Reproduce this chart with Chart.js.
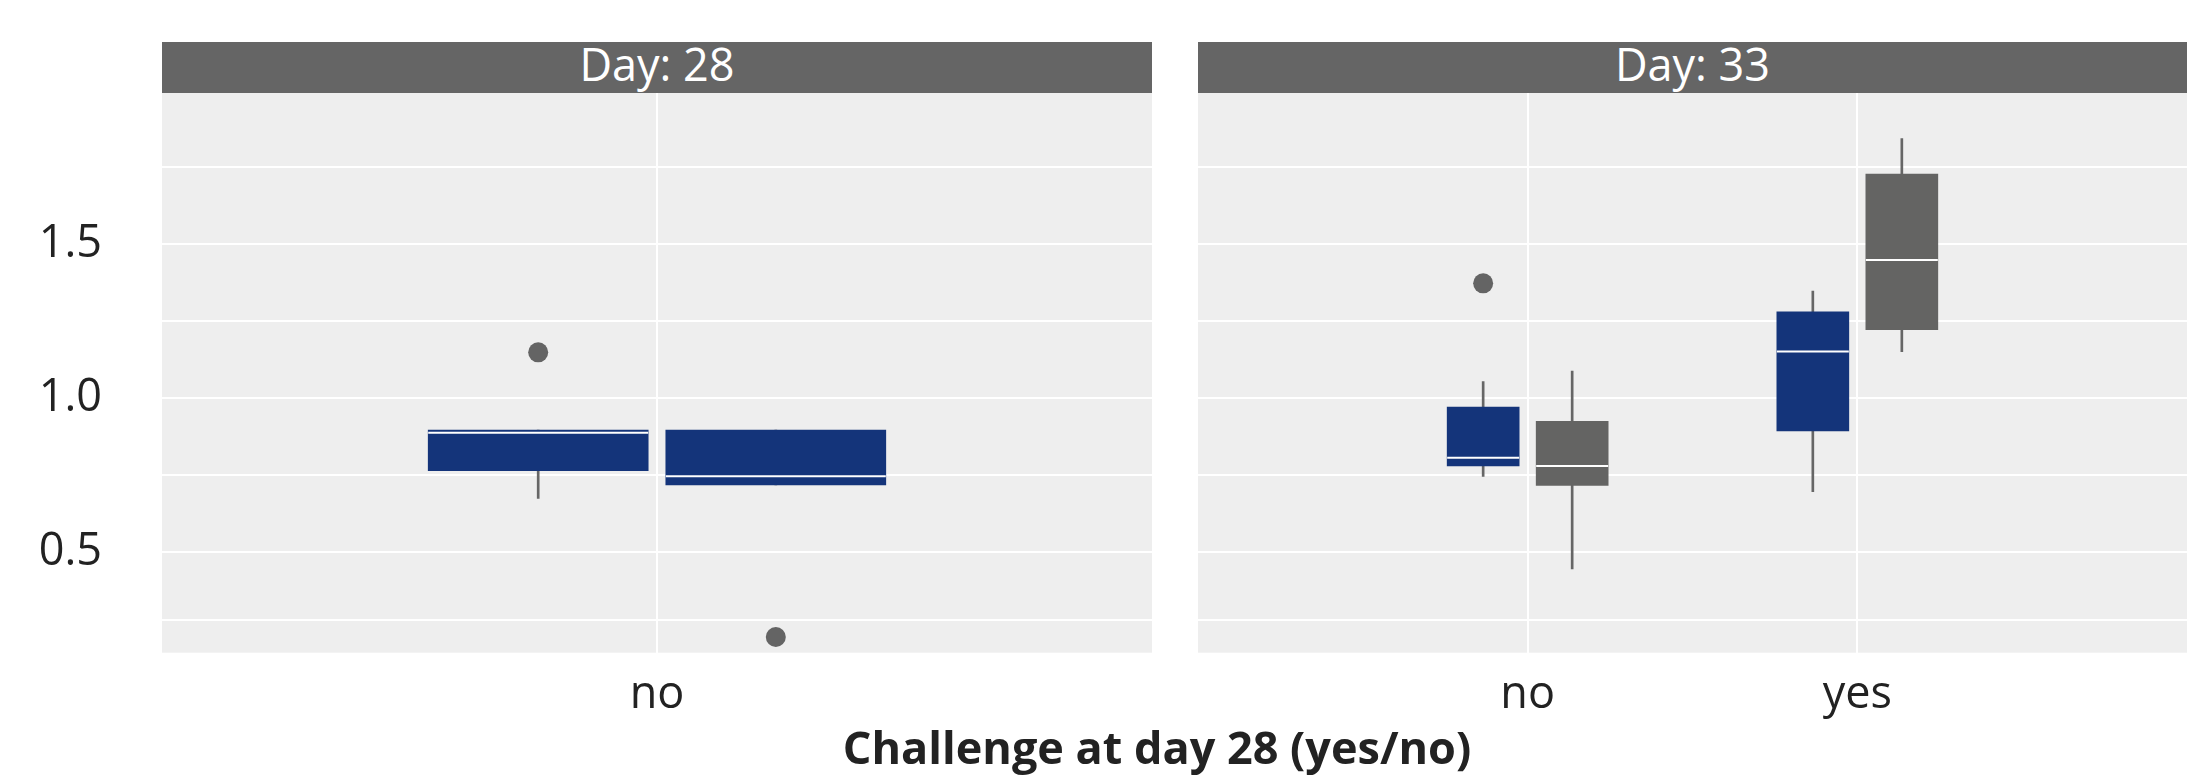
<!DOCTYPE html>
<html>
<head>
<meta charset="utf-8">
<title>Challenge at day 28</title>
<script src="https://cdn.jsdelivr.net/npm/chart.js@4.4.1/dist/chart.umd.min.js"></script>
<style>
  html, body { margin: 0; padding: 0; background: #ffffff; }
  #figure { position: relative; width: 2208px; height: 780px; overflow: hidden; font-family: "Open Sans", sans-serif; }
  .strip { position: absolute; top: 42px; height: 51px; background: #656565; color: #ffffff;
           font-size: 45px; line-height: 43px; text-align: center; white-space: nowrap; }
  .panel { position: absolute; top: 93px; height: 687px; }
  #xtitle { position: absolute; left: 1157px; top: 724px; transform: translateX(-50%);
            font-weight: 700; font-size: 45px; line-height: 45px; color: #222222; white-space: nowrap; }
</style>
</head>
<body>
<div id="figure">
  <div class="strip" style="left:162px; width:990px;">Day: 28</div>
  <div class="strip" style="left:1198px; width:989px;">Day: 33</div>
  <div class="panel" style="left:0; width:1152px;"><canvas id="day28"></canvas></div>
  <div class="panel" style="left:1198px; width:989px;"><canvas id="day33"></canvas></div>
  <div id="xtitle">Challenge at day 28 (yes/no)</div>
</div>
<script>
// ---- data -------------------------------------------------------------
// Box summaries per category: [lower whisker, Q1, median, Q3, upper whisker]

// Day 28: only the "no" group was measured, two boxes side by side
const day28Categories = ['no'];
const day28First          = [[0.675, 0.765, 0.888, 0.897, 0.897]];
const day28Second         = [[0.719, 0.719, 0.747, 0.897, 0.897]];
const day28FirstOutliers  = [[1.149]];
const day28SecondOutliers = [[0.225]];

// Day 33: both challenge groups
const day33Categories = ['no', 'yes'];
const day33Blue         = [[0.746, 0.780, 0.807, 0.971, 1.054], [0.697, 0.894, 1.152, 1.281, 1.348]];
const day33Grey         = [[0.446, 0.717, 0.780, 0.925, 1.088], [1.151, 1.223, 1.449, 1.728, 1.843]];
const day33BlueOutliers = [[1.373], []];
const day33GreyOutliers = [[], []];

// y axis: labelled breaks and the in-between grid lines
const yTickValues  = [0.5, 1.0, 1.5];
const yMinorValues = [0.28, 0.75, 1.25, 1.75];

// ---- styling ----------------------------------------------------------
const BLUE = '#14347a';
const GREY = '#646463';
const WHISKER = '#666666';
const OUTLIER = '#646464';
const TEXT = '#222222';
const FONT = '"Open Sans", sans-serif';
const Y_MIN = 0.174, Y_MAX = 1.991;

Chart.defaults.font.family = FONT;
Chart.defaults.animation = false;

// grey panel background behind the grid
const panelBackground = {
  id: 'panelBackground',
  beforeDraw(chart) {
    const { ctx, chartArea: a } = chart;
    ctx.save();
    ctx.fillStyle = '#eeeeee';
    ctx.fillRect(a.left, a.top, a.right - a.left, a.bottom - a.top);
    ctx.restore();
  }
};

// one box-and-whisker series as bar/scatter datasets
function boxSeries(stats, outliers, offset, colour, boxWidth) {
  const pos = i => i + 1 + offset;
  const whiskerLow  = stats.map((s, i) => ({ x: pos(i), y: [s[0], s[1]] }));
  const whiskerHigh = stats.map((s, i) => ({ x: pos(i), y: [s[3], s[4]] }));
  const boxes       = stats.map((s, i) => ({ x: pos(i), y: [s[1], s[3]] }));
  const medians     = stats.map((s, i) => ({ x: pos(i), y: s[2] }));
  const points      = outliers.flatMap((vals, i) => vals.map(v => ({ x: pos(i), y: v })));
  const whisker = { type: 'bar', backgroundColor: WHISKER, barThickness: 2, grouped: false, borderWidth: 0, order: 3 };
  return [
    { ...whisker, data: whiskerLow },
    { ...whisker, data: whiskerHigh },
    { type: 'bar', data: boxes, backgroundColor: colour, barThickness: boxWidth, grouped: false, borderWidth: 0, order: 2 },
    { type: 'scatter', data: medians, pointStyle: 'line', pointRadius: boxWidth / 2, pointBorderColor: '#ffffff',
      pointBorderWidth: 2, pointHoverRadius: boxWidth / 2, order: 1 },
    { type: 'scatter', data: points, pointStyle: 'circle', pointRadius: 10, pointBackgroundColor: OUTLIER,
      pointBorderWidth: 0, pointHoverRadius: 10, order: 0 }
  ];
}

function panelChart(canvasId, categories, datasets, xMin, xMax, showYLabels) {
  return new Chart(document.getElementById(canvasId), {
    type: 'bar',
    data: { datasets },
    plugins: [panelBackground],
    options: {
      responsive: true,
      maintainAspectRatio: false,
      devicePixelRatio: 1,
      events: [],
      layout: { padding: 0, autoPadding: false },
      plugins: { legend: { display: false }, tooltip: { enabled: false } },
      scales: {
        x: {
          type: 'linear', min: xMin, max: xMax, offset: false,
          afterBuildTicks: s => { s.ticks = categories.map((c, i) => ({ value: i + 1 })); },
          ticks: { callback: v => categories[v - 1], color: TEXT, font: { size: 45 }, padding: 15, maxRotation: 0 },
          grid: { color: '#ffffff', lineWidth: 2, drawTicks: false, offset: false },
          border: { display: false },
          afterFit: s => { s.height = 127.3; s.paddingLeft = 0; s.paddingRight = 0; }
        },
        y: {
          type: 'linear', min: Y_MIN, max: Y_MAX,
          afterBuildTicks: s => {
            s.ticks = [...yMinorValues, ...yTickValues].sort((a, b) => a - b).map(v => ({ value: v }));
          },
          ticks: {
            display: showYLabels,
            callback: v => (yTickValues.includes(v) ? v.toFixed(1) : ''),
            color: TEXT, font: { size: 45 }, padding: 60
          },
          grid: { color: '#ffffff', lineWidth: 2, drawTicks: false },
          border: { display: false },
          afterFit: s => { s.width = showYLabels ? 162 : 0; s.paddingTop = 0; s.paddingBottom = 0; }
        }
      }
    }
  });
}

// Day 28 panel: single category, two dodged boxes
panelChart('day28', day28Categories, [
  ...boxSeries(day28First,  day28FirstOutliers,  -0.144, BLUE, 220),
  ...boxSeries(day28Second, day28SecondOutliers,  0.144, BLUE, 220)
], 0.4, 1.6, true);

// Day 33 panel: two categories, blue and grey boxes
panelChart('day33', day33Categories, [
  ...boxSeries(day33Blue, day33BlueOutliers, -0.135, BLUE, 72),
  ...boxSeries(day33Grey, day33GreyOutliers,  0.135, GREY, 72)
], 0, 3, false);
</script>
</body>
</html>
